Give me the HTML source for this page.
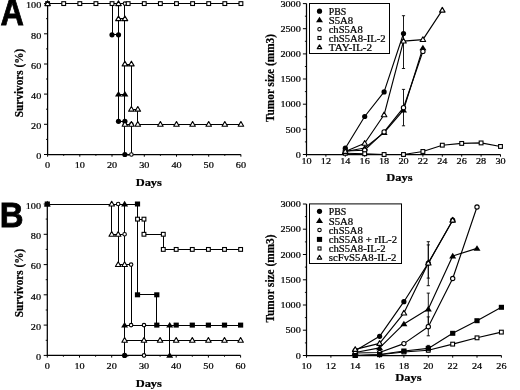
<!DOCTYPE html>
<html><head><meta charset="utf-8"><title>Figure</title>
<style>
html,body{margin:0;padding:0;background:#fff;}
body{width:520px;height:390px;overflow:hidden;font-family:"Liberation Serif",serif;}
svg text{stroke:#000;stroke-width:0.22px;}svg{display:block;filter:blur(0.3px);font-family:"Liberation Serif",serif;fill:#000;}
</style></head><body>
<svg width="520" height="390" viewBox="0 0 520 390">
<rect width="520" height="390" fill="#fff"/>
<path d="M47.6 3.6V154.5H240.9" fill="none" stroke="#000" stroke-width="1.25"/>
<path d="M47.6 154.5v2.2" stroke="#000" stroke-width="1"/>
<text transform="translate(47.6 167.5) scale(1.12 1)" text-anchor="middle" font-size="9.1">0</text>
<path d="M79.8 154.5v2.2" stroke="#000" stroke-width="1"/>
<text transform="translate(79.8 167.5) scale(1.12 1)" text-anchor="middle" font-size="9.1">10</text>
<path d="M112.0 154.5v2.2" stroke="#000" stroke-width="1"/>
<text transform="translate(112.0 167.5) scale(1.12 1)" text-anchor="middle" font-size="9.1">20</text>
<path d="M144.3 154.5v2.2" stroke="#000" stroke-width="1"/>
<text transform="translate(144.3 167.5) scale(1.12 1)" text-anchor="middle" font-size="9.1">30</text>
<path d="M176.5 154.5v2.2" stroke="#000" stroke-width="1"/>
<text transform="translate(176.5 167.5) scale(1.12 1)" text-anchor="middle" font-size="9.1">40</text>
<path d="M208.7 154.5v2.2" stroke="#000" stroke-width="1"/>
<text transform="translate(208.7 167.5) scale(1.12 1)" text-anchor="middle" font-size="9.1">50</text>
<path d="M240.9 154.5v2.2" stroke="#000" stroke-width="1"/>
<text transform="translate(240.9 167.5) scale(1.12 1)" text-anchor="middle" font-size="9.1">60</text>
<path d="M63.7 154.5v1.4" stroke="#000" stroke-width="0.9"/>
<path d="M95.9 154.5v1.4" stroke="#000" stroke-width="0.9"/>
<path d="M128.2 154.5v1.4" stroke="#000" stroke-width="0.9"/>
<path d="M160.4 154.5v1.4" stroke="#000" stroke-width="0.9"/>
<path d="M192.6 154.5v1.4" stroke="#000" stroke-width="0.9"/>
<path d="M224.8 154.5v1.4" stroke="#000" stroke-width="0.9"/>
<path d="M47.6 154.5h-3.6" stroke="#000" stroke-width="1"/>
<text transform="translate(41.300000000000004 159.2) scale(1.12 1)" text-anchor="end" font-size="9.1">0</text>
<path d="M47.6 124.3h-3.6" stroke="#000" stroke-width="1"/>
<text transform="translate(41.300000000000004 129.0) scale(1.12 1)" text-anchor="end" font-size="9.1">20</text>
<path d="M47.6 94.1h-3.6" stroke="#000" stroke-width="1"/>
<text transform="translate(41.300000000000004 98.8) scale(1.12 1)" text-anchor="end" font-size="9.1">40</text>
<path d="M47.6 64.0h-3.6" stroke="#000" stroke-width="1"/>
<text transform="translate(41.300000000000004 68.7) scale(1.12 1)" text-anchor="end" font-size="9.1">60</text>
<path d="M47.6 33.8h-3.6" stroke="#000" stroke-width="1"/>
<text transform="translate(41.300000000000004 38.5) scale(1.12 1)" text-anchor="end" font-size="9.1">80</text>
<path d="M47.6 3.6h-3.6" stroke="#000" stroke-width="1"/>
<text transform="translate(41.300000000000004 8.3) scale(1.12 1)" text-anchor="end" font-size="9.1">100</text>
<path d="M47.6 139.4h-1.6" stroke="#000" stroke-width="0.9"/>
<path d="M47.6 109.2h-1.6" stroke="#000" stroke-width="0.9"/>
<path d="M47.6 79.0h-1.6" stroke="#000" stroke-width="0.9"/>
<path d="M47.6 48.9h-1.6" stroke="#000" stroke-width="0.9"/>
<path d="M47.6 18.7h-1.6" stroke="#000" stroke-width="0.9"/>
<path d="M47.6 3.6L112.0 3.6L112.0 34.8L118.5 34.8L118.5 121.3L124.9 121.3L124.9 154.5" fill="none" stroke="#000" stroke-width="1" shape-rendering="crispEdges"/>
<path d="M47.6 3.6L118.5 3.6L118.5 94.1L124.9 94.1L124.9 154.5" fill="none" stroke="#000" stroke-width="1" shape-rendering="crispEdges"/>
<path d="M47.6 3.6L124.9 3.6L124.9 124.3L131.4 124.3L131.4 154.5" fill="none" stroke="#000" stroke-width="1" shape-rendering="crispEdges"/>
<path d="M47.6 3.6L240.9 3.6" fill="none" stroke="#000" stroke-width="1" shape-rendering="crispEdges"/>
<path d="M47.6 3.6L118.5 3.6L118.5 18.7L124.9 18.7L124.9 64.0L131.4 64.0L131.4 109.2L137.8 109.2L137.8 124.3L240.9 124.3" fill="none" stroke="#000" stroke-width="1" shape-rendering="crispEdges"/>
<circle cx="112.0" cy="34.8" r="2.6" fill="#000"/>
<circle cx="118.5" cy="34.8" r="2.6" fill="#000"/>
<circle cx="118.5" cy="121.3" r="2.6" fill="#000"/>
<circle cx="124.9" cy="121.3" r="2.6" fill="#000"/>
<circle cx="124.9" cy="154.5" r="2.6" fill="#000"/>
<path d="M118.5 90.9L122.0 96.5L115.0 96.5Z" fill="#000"/>
<path d="M124.9 90.9L128.4 96.5L121.4 96.5Z" fill="#000"/>
<circle cx="124.9" cy="3.6" r="1.76" fill="#fff" stroke="#000" stroke-width="1.1"/>
<circle cx="124.9" cy="124.3" r="1.76" fill="#fff" stroke="#000" stroke-width="1.1"/>
<circle cx="131.4" cy="124.3" r="1.76" fill="#fff" stroke="#000" stroke-width="1.1"/>
<circle cx="131.4" cy="154.5" r="1.76" fill="#fff" stroke="#000" stroke-width="1.1"/>
<rect x="45.70" y="1.70" width="3.80" height="3.80" fill="#fff" stroke="#000" stroke-width="1.1"/>
<rect x="61.81" y="1.70" width="3.80" height="3.80" fill="#fff" stroke="#000" stroke-width="1.1"/>
<rect x="77.92" y="1.70" width="3.80" height="3.80" fill="#fff" stroke="#000" stroke-width="1.1"/>
<rect x="94.03" y="1.70" width="3.80" height="3.80" fill="#fff" stroke="#000" stroke-width="1.1"/>
<rect x="110.14" y="1.70" width="3.80" height="3.80" fill="#fff" stroke="#000" stroke-width="1.1"/>
<rect x="126.25" y="1.70" width="3.80" height="3.80" fill="#fff" stroke="#000" stroke-width="1.1"/>
<rect x="142.36" y="1.70" width="3.80" height="3.80" fill="#fff" stroke="#000" stroke-width="1.1"/>
<rect x="158.47" y="1.70" width="3.80" height="3.80" fill="#fff" stroke="#000" stroke-width="1.1"/>
<rect x="174.58" y="1.70" width="3.80" height="3.80" fill="#fff" stroke="#000" stroke-width="1.1"/>
<rect x="190.69" y="1.70" width="3.80" height="3.80" fill="#fff" stroke="#000" stroke-width="1.1"/>
<rect x="206.80" y="1.70" width="3.80" height="3.80" fill="#fff" stroke="#000" stroke-width="1.1"/>
<rect x="222.91" y="1.70" width="3.80" height="3.80" fill="#fff" stroke="#000" stroke-width="1.1"/>
<rect x="239.02" y="1.70" width="3.80" height="3.80" fill="#fff" stroke="#000" stroke-width="1.1"/>
<path d="M47.6 0.85L50.35 5.55L44.85 5.55Z" fill="#fff" stroke="#000" stroke-width="1.15" stroke-linejoin="round"/>
<path d="M118.5 0.85L121.23 5.55L115.73 5.55Z" fill="#fff" stroke="#000" stroke-width="1.15" stroke-linejoin="round"/>
<path d="M118.5 15.94L121.23 20.64L115.73 20.64Z" fill="#fff" stroke="#000" stroke-width="1.15" stroke-linejoin="round"/>
<path d="M124.9 15.94L127.68 20.64L122.18 20.64Z" fill="#fff" stroke="#000" stroke-width="1.15" stroke-linejoin="round"/>
<path d="M124.9 61.21L127.68 65.91L122.18 65.91Z" fill="#fff" stroke="#000" stroke-width="1.15" stroke-linejoin="round"/>
<path d="M131.4 61.21L134.12 65.91L128.62 65.91Z" fill="#fff" stroke="#000" stroke-width="1.15" stroke-linejoin="round"/>
<path d="M131.4 106.48L134.12 111.18L128.62 111.18Z" fill="#fff" stroke="#000" stroke-width="1.15" stroke-linejoin="round"/>
<path d="M137.8 106.48L140.57 111.18L135.07 111.18Z" fill="#fff" stroke="#000" stroke-width="1.15" stroke-linejoin="round"/>
<path d="M124.9 121.57L127.68 126.27L122.18 126.27Z" fill="#fff" stroke="#000" stroke-width="1.15" stroke-linejoin="round"/>
<path d="M131.4 121.57L134.12 126.27L128.62 126.27Z" fill="#fff" stroke="#000" stroke-width="1.15" stroke-linejoin="round"/>
<path d="M137.8 121.57L140.57 126.27L135.07 126.27Z" fill="#fff" stroke="#000" stroke-width="1.15" stroke-linejoin="round"/>
<path d="M160.4 121.57L163.12 126.27L157.62 126.27Z" fill="#fff" stroke="#000" stroke-width="1.15" stroke-linejoin="round"/>
<path d="M176.5 121.57L179.23 126.27L173.73 126.27Z" fill="#fff" stroke="#000" stroke-width="1.15" stroke-linejoin="round"/>
<path d="M192.6 121.57L195.34 126.27L189.84 126.27Z" fill="#fff" stroke="#000" stroke-width="1.15" stroke-linejoin="round"/>
<path d="M208.7 121.57L211.45 126.27L205.95 126.27Z" fill="#fff" stroke="#000" stroke-width="1.15" stroke-linejoin="round"/>
<path d="M224.8 121.57L227.56 126.27L222.06 126.27Z" fill="#fff" stroke="#000" stroke-width="1.15" stroke-linejoin="round"/>
<path d="M240.9 121.57L243.67 126.27L238.17 126.27Z" fill="#fff" stroke="#000" stroke-width="1.15" stroke-linejoin="round"/>
<text x="148.8" y="185.8" text-anchor="middle" font-size="11" font-weight="bold" textLength="26.3" lengthAdjust="spacingAndGlyphs">Days</text>
<text transform="translate(22.6 83) rotate(-90)" text-anchor="middle" font-size="11.5" font-weight="bold" textLength="68.5" lengthAdjust="spacingAndGlyphs">Survivors (%)</text>
<path d="M306.5 3.6V154.5H500.5" fill="none" stroke="#000" stroke-width="1.25"/>
<path d="M306.5 154.5v2.2" stroke="#000" stroke-width="1"/>
<text transform="translate(306.5 164.1) scale(1.12 1)" text-anchor="middle" font-size="9.1">10</text>
<path d="M325.9 154.5v2.2" stroke="#000" stroke-width="1"/>
<text transform="translate(325.9 164.1) scale(1.12 1)" text-anchor="middle" font-size="9.1">12</text>
<path d="M345.3 154.5v2.2" stroke="#000" stroke-width="1"/>
<text transform="translate(345.3 164.1) scale(1.12 1)" text-anchor="middle" font-size="9.1">14</text>
<path d="M364.7 154.5v2.2" stroke="#000" stroke-width="1"/>
<text transform="translate(364.7 164.1) scale(1.12 1)" text-anchor="middle" font-size="9.1">16</text>
<path d="M384.1 154.5v2.2" stroke="#000" stroke-width="1"/>
<text transform="translate(384.1 164.1) scale(1.12 1)" text-anchor="middle" font-size="9.1">18</text>
<path d="M403.5 154.5v2.2" stroke="#000" stroke-width="1"/>
<text transform="translate(403.5 164.1) scale(1.12 1)" text-anchor="middle" font-size="9.1">20</text>
<path d="M422.9 154.5v2.2" stroke="#000" stroke-width="1"/>
<text transform="translate(422.9 164.1) scale(1.12 1)" text-anchor="middle" font-size="9.1">22</text>
<path d="M442.3 154.5v2.2" stroke="#000" stroke-width="1"/>
<text transform="translate(442.3 164.1) scale(1.12 1)" text-anchor="middle" font-size="9.1">24</text>
<path d="M461.7 154.5v2.2" stroke="#000" stroke-width="1"/>
<text transform="translate(461.7 164.1) scale(1.12 1)" text-anchor="middle" font-size="9.1">26</text>
<path d="M481.1 154.5v2.2" stroke="#000" stroke-width="1"/>
<text transform="translate(481.1 164.1) scale(1.12 1)" text-anchor="middle" font-size="9.1">28</text>
<path d="M500.5 154.5v2.2" stroke="#000" stroke-width="1"/>
<text transform="translate(500.5 164.1) scale(1.12 1)" text-anchor="middle" font-size="9.1">30</text>
<path d="M306.5 154.5h-3.6" stroke="#000" stroke-width="1"/>
<text transform="translate(300.8 157.7) scale(1.12 1)" text-anchor="end" font-size="9.1">0</text>
<path d="M306.5 129.3h-3.6" stroke="#000" stroke-width="1"/>
<text transform="translate(300.8 132.5) scale(1.12 1)" text-anchor="end" font-size="9.1">500</text>
<path d="M306.5 104.2h-3.6" stroke="#000" stroke-width="1"/>
<text transform="translate(300.8 107.4) scale(1.12 1)" text-anchor="end" font-size="9.1">1000</text>
<path d="M306.5 79.0h-3.6" stroke="#000" stroke-width="1"/>
<text transform="translate(300.8 82.2) scale(1.12 1)" text-anchor="end" font-size="9.1">1500</text>
<path d="M306.5 53.9h-3.6" stroke="#000" stroke-width="1"/>
<text transform="translate(300.8 57.1) scale(1.12 1)" text-anchor="end" font-size="9.1">2000</text>
<path d="M306.5 28.7h-3.6" stroke="#000" stroke-width="1"/>
<text transform="translate(300.8 31.9) scale(1.12 1)" text-anchor="end" font-size="9.1">2500</text>
<path d="M306.5 3.6h-3.6" stroke="#000" stroke-width="1"/>
<text transform="translate(300.8 6.8) scale(1.12 1)" text-anchor="end" font-size="9.1">3000</text>
<path d="M306.5 141.9h-1.6" stroke="#000" stroke-width="0.9"/>
<path d="M306.5 116.8h-1.6" stroke="#000" stroke-width="0.9"/>
<path d="M306.5 91.6h-1.6" stroke="#000" stroke-width="0.9"/>
<path d="M306.5 66.5h-1.6" stroke="#000" stroke-width="0.9"/>
<path d="M306.5 41.3h-1.6" stroke="#000" stroke-width="0.9"/>
<path d="M306.5 16.2h-1.6" stroke="#000" stroke-width="0.9"/>
<path d="M403.5 68.5V15.7M401.9 68.5h3.2M401.9 15.7h3.2" fill="none" stroke="#000" stroke-width="0.9"/>
<path d="M403.5 125.8V89.4M401.9 125.8h3.2M401.9 89.4h3.2" fill="none" stroke="#000" stroke-width="0.9"/>
<path d="M345.3 148.2L364.7 116.5L384.1 91.9L403.5 33.5" fill="none" stroke="#000" stroke-width="1.15" stroke-linejoin="round"/>
<path d="M345.3 151.5L364.7 148.0L384.1 132.6L403.5 110.2L422.9 47.9" fill="none" stroke="#000" stroke-width="1.15" stroke-linejoin="round"/>
<path d="M345.3 151.0L364.7 150.2L384.1 131.9L403.5 107.7L422.9 51.4" fill="none" stroke="#000" stroke-width="1.15" stroke-linejoin="round"/>
<path d="M345.3 153.2L364.7 153.7L384.1 154.5L403.5 154.5L422.9 151.5L442.3 145.2L461.7 143.4L481.1 142.9L500.5 146.5" fill="none" stroke="#000" stroke-width="1.15" stroke-linejoin="round"/>
<path d="M345.3 151.5L364.7 143.3L384.1 114.8L403.5 41.1L422.9 39.6L442.3 10.1" fill="none" stroke="#000" stroke-width="1.15" stroke-linejoin="round"/>
<circle cx="345.3" cy="148.2" r="2.6" fill="#000"/>
<circle cx="364.7" cy="116.5" r="2.6" fill="#000"/>
<circle cx="384.1" cy="91.9" r="2.6" fill="#000"/>
<circle cx="403.5" cy="33.5" r="2.6" fill="#000"/>
<path d="M345.3 148.3L348.8 153.9L341.8 153.9Z" fill="#000"/>
<path d="M364.7 144.8L368.2 150.4L361.2 150.4Z" fill="#000"/>
<path d="M384.1 129.4L387.6 135.0L380.6 135.0Z" fill="#000"/>
<path d="M403.5 107.0L407.0 112.6L400.0 112.6Z" fill="#000"/>
<path d="M422.9 44.7L426.4 50.3L419.4 50.3Z" fill="#000"/>
<circle cx="345.3" cy="151.0" r="2.15" fill="#fff" stroke="#000" stroke-width="1.1"/>
<circle cx="364.7" cy="150.2" r="2.15" fill="#fff" stroke="#000" stroke-width="1.1"/>
<circle cx="384.1" cy="131.9" r="2.15" fill="#fff" stroke="#000" stroke-width="1.1"/>
<circle cx="403.5" cy="107.7" r="2.15" fill="#fff" stroke="#000" stroke-width="1.1"/>
<circle cx="422.9" cy="51.4" r="2.15" fill="#fff" stroke="#000" stroke-width="1.1"/>
<rect x="343.40" y="151.34" width="3.80" height="3.80" fill="#fff" stroke="#000" stroke-width="1.1"/>
<rect x="362.80" y="151.85" width="3.80" height="3.80" fill="#fff" stroke="#000" stroke-width="1.1"/>
<rect x="382.20" y="152.60" width="3.80" height="3.80" fill="#fff" stroke="#000" stroke-width="1.1"/>
<rect x="401.60" y="152.60" width="3.80" height="3.80" fill="#fff" stroke="#000" stroke-width="1.1"/>
<rect x="421.00" y="149.58" width="3.80" height="3.80" fill="#fff" stroke="#000" stroke-width="1.1"/>
<rect x="440.40" y="143.29" width="3.80" height="3.80" fill="#fff" stroke="#000" stroke-width="1.1"/>
<rect x="459.80" y="141.53" width="3.80" height="3.80" fill="#fff" stroke="#000" stroke-width="1.1"/>
<rect x="479.20" y="141.03" width="3.80" height="3.80" fill="#fff" stroke="#000" stroke-width="1.1"/>
<rect x="498.60" y="144.55" width="3.80" height="3.80" fill="#fff" stroke="#000" stroke-width="1.1"/>
<path d="M345.3 148.73L348.05 153.43L342.55 153.43Z" fill="#fff" stroke="#000" stroke-width="1.15" stroke-linejoin="round"/>
<path d="M364.7 140.58L367.45 145.28L361.95 145.28Z" fill="#fff" stroke="#000" stroke-width="1.15" stroke-linejoin="round"/>
<path d="M384.1 112.01L386.85 116.71L381.35 116.71Z" fill="#fff" stroke="#000" stroke-width="1.15" stroke-linejoin="round"/>
<path d="M403.5 38.32L406.25 43.02L400.75 43.02Z" fill="#fff" stroke="#000" stroke-width="1.15" stroke-linejoin="round"/>
<path d="M422.9 36.81L425.65 41.51L420.15 41.51Z" fill="#fff" stroke="#000" stroke-width="1.15" stroke-linejoin="round"/>
<path d="M442.3 7.39L445.05 12.09L439.55 12.09Z" fill="#fff" stroke="#000" stroke-width="1.15" stroke-linejoin="round"/>
<rect x="309.5" y="3.5" width="80.0" height="50.0" fill="#fff" stroke="#000" stroke-width="1"/>
<circle cx="319.5" cy="11.2" r="2.6" fill="#000"/>
<text x="328.7" y="15.0" font-size="9.5" textLength="17.5" lengthAdjust="spacingAndGlyphs">PBS</text>
<path d="M319.5 16.7L323.0 22.3L316.0 22.3Z" fill="#000"/>
<text x="328.7" y="23.7" font-size="9.5" textLength="24.5" lengthAdjust="spacingAndGlyphs">S5A8</text>
<circle cx="319.5" cy="29.2" r="1.72" fill="#fff" stroke="#000" stroke-width="1.1"/>
<text x="328.7" y="33.0" font-size="9.5" textLength="34" lengthAdjust="spacingAndGlyphs">chS5A8</text>
<rect x="317.98" y="36.48" width="3.04" height="3.04" fill="#fff" stroke="#000" stroke-width="1.1"/>
<text x="328.7" y="41.8" font-size="9.5" textLength="57" lengthAdjust="spacingAndGlyphs">chS5A8-IL-2</text>
<path d="M319.5 44.90L321.70 48.66L317.30 48.66Z" fill="#fff" stroke="#000" stroke-width="1.15" stroke-linejoin="round"/>
<text x="328.7" y="50.9" font-size="9.5" textLength="43.5" lengthAdjust="spacingAndGlyphs">TAY-IL-2</text>
<text x="399.5" y="180.8" text-anchor="middle" font-size="11" font-weight="bold" textLength="26.3" lengthAdjust="spacingAndGlyphs">Days</text>
<text transform="translate(274 78) rotate(-90)" text-anchor="middle" font-size="11.5" font-weight="bold" textLength="88" lengthAdjust="spacingAndGlyphs">Tumor size (mm3)</text>
<path d="M47.3 204.0V355.4H240.6" fill="none" stroke="#000" stroke-width="1.25"/>
<path d="M47.3 355.4v2.2" stroke="#000" stroke-width="1"/>
<text transform="translate(47.3 368.6) scale(1.12 1)" text-anchor="middle" font-size="9.1">0</text>
<path d="M79.5 355.4v2.2" stroke="#000" stroke-width="1"/>
<text transform="translate(79.5 368.6) scale(1.12 1)" text-anchor="middle" font-size="9.1">10</text>
<path d="M111.7 355.4v2.2" stroke="#000" stroke-width="1"/>
<text transform="translate(111.7 368.6) scale(1.12 1)" text-anchor="middle" font-size="9.1">20</text>
<path d="M144.0 355.4v2.2" stroke="#000" stroke-width="1"/>
<text transform="translate(144.0 368.6) scale(1.12 1)" text-anchor="middle" font-size="9.1">30</text>
<path d="M176.2 355.4v2.2" stroke="#000" stroke-width="1"/>
<text transform="translate(176.2 368.6) scale(1.12 1)" text-anchor="middle" font-size="9.1">40</text>
<path d="M208.4 355.4v2.2" stroke="#000" stroke-width="1"/>
<text transform="translate(208.4 368.6) scale(1.12 1)" text-anchor="middle" font-size="9.1">50</text>
<path d="M240.6 355.4v2.2" stroke="#000" stroke-width="1"/>
<text transform="translate(240.6 368.6) scale(1.12 1)" text-anchor="middle" font-size="9.1">60</text>
<path d="M63.4 355.4v1.4" stroke="#000" stroke-width="0.9"/>
<path d="M95.6 355.4v1.4" stroke="#000" stroke-width="0.9"/>
<path d="M127.8 355.4v1.4" stroke="#000" stroke-width="0.9"/>
<path d="M160.1 355.4v1.4" stroke="#000" stroke-width="0.9"/>
<path d="M192.3 355.4v1.4" stroke="#000" stroke-width="0.9"/>
<path d="M224.5 355.4v1.4" stroke="#000" stroke-width="0.9"/>
<path d="M47.3 355.4h-3.6" stroke="#000" stroke-width="1"/>
<text transform="translate(41.0 360.1) scale(1.12 1)" text-anchor="end" font-size="9.1">0</text>
<path d="M47.3 325.1h-3.6" stroke="#000" stroke-width="1"/>
<text transform="translate(41.0 329.8) scale(1.12 1)" text-anchor="end" font-size="9.1">20</text>
<path d="M47.3 294.8h-3.6" stroke="#000" stroke-width="1"/>
<text transform="translate(41.0 299.5) scale(1.12 1)" text-anchor="end" font-size="9.1">40</text>
<path d="M47.3 264.6h-3.6" stroke="#000" stroke-width="1"/>
<text transform="translate(41.0 269.3) scale(1.12 1)" text-anchor="end" font-size="9.1">60</text>
<path d="M47.3 234.3h-3.6" stroke="#000" stroke-width="1"/>
<text transform="translate(41.0 239.0) scale(1.12 1)" text-anchor="end" font-size="9.1">80</text>
<path d="M47.3 204.0h-3.6" stroke="#000" stroke-width="1"/>
<text transform="translate(41.0 208.7) scale(1.12 1)" text-anchor="end" font-size="9.1">100</text>
<path d="M47.3 340.3h-1.6" stroke="#000" stroke-width="0.9"/>
<path d="M47.3 310.0h-1.6" stroke="#000" stroke-width="0.9"/>
<path d="M47.3 279.7h-1.6" stroke="#000" stroke-width="0.9"/>
<path d="M47.3 249.4h-1.6" stroke="#000" stroke-width="0.9"/>
<path d="M47.3 219.1h-1.6" stroke="#000" stroke-width="0.9"/>
<path d="M47.3 204.0L124.6 204.0L124.6 355.4" fill="none" stroke="#000" stroke-width="1" shape-rendering="crispEdges"/>
<path d="M47.3 204.0L124.6 204.0L124.6 325.1L169.7 325.1L169.7 355.4" fill="none" stroke="#000" stroke-width="1" shape-rendering="crispEdges"/>
<path d="M47.3 204.0L118.2 204.0L118.2 234.3L124.6 234.3L124.6 264.6L131.1 264.6L131.1 325.1L144.0 325.1L144.0 355.4" fill="none" stroke="#000" stroke-width="1" shape-rendering="crispEdges"/>
<path d="M47.3 204.0L137.5 204.0L137.5 294.8L156.8 294.8L156.8 325.1L240.6 325.1" fill="none" stroke="#000" stroke-width="1" shape-rendering="crispEdges"/>
<path d="M47.3 204.0L137.5 204.0L137.5 219.1L144.0 219.1L144.0 234.3L163.3 234.3L163.3 249.4L240.6 249.4" fill="none" stroke="#000" stroke-width="1" shape-rendering="crispEdges"/>
<path d="M47.3 204.0L111.7 204.0L111.7 234.3L118.2 234.3L118.2 264.6L124.6 264.6L124.6 340.3L240.6 340.3" fill="none" stroke="#000" stroke-width="1" shape-rendering="crispEdges"/>
<circle cx="124.6" cy="355.4" r="2.6" fill="#000"/>
<path d="M47.3 200.8L50.8 206.4L43.8 206.4Z" fill="#000"/>
<path d="M124.6 200.8L128.1 206.4L121.1 206.4Z" fill="#000"/>
<path d="M124.6 321.9L128.1 327.5L121.1 327.5Z" fill="#000"/>
<path d="M169.7 321.9L173.2 327.5L166.2 327.5Z" fill="#000"/>
<path d="M169.7 352.2L173.2 357.8L166.2 357.8Z" fill="#000"/>
<circle cx="118.2" cy="204.0" r="1.76" fill="#fff" stroke="#000" stroke-width="1.1"/>
<circle cx="124.6" cy="234.3" r="1.76" fill="#fff" stroke="#000" stroke-width="1.1"/>
<circle cx="131.1" cy="264.6" r="1.76" fill="#fff" stroke="#000" stroke-width="1.1"/>
<circle cx="131.1" cy="325.1" r="1.76" fill="#fff" stroke="#000" stroke-width="1.1"/>
<circle cx="144.0" cy="325.1" r="1.76" fill="#fff" stroke="#000" stroke-width="1.1"/>
<circle cx="144.0" cy="355.4" r="1.76" fill="#fff" stroke="#000" stroke-width="1.1"/>
<rect x="44.7" y="201.5" width="5.2" height="5" fill="#000"/>
<rect x="134.9" y="201.5" width="5.2" height="5" fill="#000"/>
<rect x="134.9" y="292.3" width="5.2" height="5" fill="#000"/>
<rect x="154.2" y="292.3" width="5.2" height="5" fill="#000"/>
<rect x="154.2" y="322.6" width="5.2" height="5" fill="#000"/>
<rect x="173.6" y="322.6" width="5.2" height="5" fill="#000"/>
<rect x="189.7" y="322.6" width="5.2" height="5" fill="#000"/>
<rect x="205.8" y="322.6" width="5.2" height="5" fill="#000"/>
<rect x="221.9" y="322.6" width="5.2" height="5" fill="#000"/>
<rect x="238.0" y="322.6" width="5.2" height="5" fill="#000"/>
<rect x="135.62" y="217.24" width="3.80" height="3.80" fill="#fff" stroke="#000" stroke-width="1.1"/>
<rect x="142.06" y="217.24" width="3.80" height="3.80" fill="#fff" stroke="#000" stroke-width="1.1"/>
<rect x="142.06" y="232.38" width="3.80" height="3.80" fill="#fff" stroke="#000" stroke-width="1.1"/>
<rect x="161.39" y="232.38" width="3.80" height="3.80" fill="#fff" stroke="#000" stroke-width="1.1"/>
<rect x="161.39" y="247.52" width="3.80" height="3.80" fill="#fff" stroke="#000" stroke-width="1.1"/>
<rect x="174.28" y="247.52" width="3.80" height="3.80" fill="#fff" stroke="#000" stroke-width="1.1"/>
<rect x="190.39" y="247.52" width="3.80" height="3.80" fill="#fff" stroke="#000" stroke-width="1.1"/>
<rect x="206.50" y="247.52" width="3.80" height="3.80" fill="#fff" stroke="#000" stroke-width="1.1"/>
<rect x="222.61" y="247.52" width="3.80" height="3.80" fill="#fff" stroke="#000" stroke-width="1.1"/>
<rect x="238.72" y="247.52" width="3.80" height="3.80" fill="#fff" stroke="#000" stroke-width="1.1"/>
<path d="M111.7 201.25L114.49 205.95L108.99 205.95Z" fill="#fff" stroke="#000" stroke-width="1.15" stroke-linejoin="round"/>
<path d="M111.7 231.53L114.49 236.23L108.99 236.23Z" fill="#fff" stroke="#000" stroke-width="1.15" stroke-linejoin="round"/>
<path d="M118.2 231.53L120.93 236.23L115.43 236.23Z" fill="#fff" stroke="#000" stroke-width="1.15" stroke-linejoin="round"/>
<path d="M118.2 261.81L120.93 266.51L115.43 266.51Z" fill="#fff" stroke="#000" stroke-width="1.15" stroke-linejoin="round"/>
<path d="M124.6 261.81L127.38 266.51L121.88 266.51Z" fill="#fff" stroke="#000" stroke-width="1.15" stroke-linejoin="round"/>
<path d="M124.6 337.51L127.38 342.21L121.88 342.21Z" fill="#fff" stroke="#000" stroke-width="1.15" stroke-linejoin="round"/>
<path d="M144.0 337.51L146.71 342.21L141.21 342.21Z" fill="#fff" stroke="#000" stroke-width="1.15" stroke-linejoin="round"/>
<path d="M160.1 337.51L162.82 342.21L157.32 342.21Z" fill="#fff" stroke="#000" stroke-width="1.15" stroke-linejoin="round"/>
<path d="M176.2 337.51L178.93 342.21L173.43 342.21Z" fill="#fff" stroke="#000" stroke-width="1.15" stroke-linejoin="round"/>
<path d="M192.3 337.51L195.04 342.21L189.54 342.21Z" fill="#fff" stroke="#000" stroke-width="1.15" stroke-linejoin="round"/>
<path d="M208.4 337.51L211.15 342.21L205.65 342.21Z" fill="#fff" stroke="#000" stroke-width="1.15" stroke-linejoin="round"/>
<path d="M224.5 337.51L227.26 342.21L221.76 342.21Z" fill="#fff" stroke="#000" stroke-width="1.15" stroke-linejoin="round"/>
<path d="M240.6 337.51L243.37 342.21L237.87 342.21Z" fill="#fff" stroke="#000" stroke-width="1.15" stroke-linejoin="round"/>
<text x="148.8" y="386.5" text-anchor="middle" font-size="11" font-weight="bold" textLength="26.3" lengthAdjust="spacingAndGlyphs">Days</text>
<text transform="translate(22.6 283) rotate(-90)" text-anchor="middle" font-size="11.5" font-weight="bold" textLength="68.5" lengthAdjust="spacingAndGlyphs">Survivors (%)</text>
<path d="M306.5 204.0V355.5H501.4" fill="none" stroke="#000" stroke-width="1.25"/>
<path d="M306.5 355.5v2.2" stroke="#000" stroke-width="1"/>
<text transform="translate(306.5 368.7) scale(1.12 1)" text-anchor="middle" font-size="9.1">10</text>
<path d="M330.9 355.5v2.2" stroke="#000" stroke-width="1"/>
<text transform="translate(330.9 368.7) scale(1.12 1)" text-anchor="middle" font-size="9.1">12</text>
<path d="M355.2 355.5v2.2" stroke="#000" stroke-width="1"/>
<text transform="translate(355.2 368.7) scale(1.12 1)" text-anchor="middle" font-size="9.1">14</text>
<path d="M379.6 355.5v2.2" stroke="#000" stroke-width="1"/>
<text transform="translate(379.6 368.7) scale(1.12 1)" text-anchor="middle" font-size="9.1">16</text>
<path d="M403.9 355.5v2.2" stroke="#000" stroke-width="1"/>
<text transform="translate(403.9 368.7) scale(1.12 1)" text-anchor="middle" font-size="9.1">18</text>
<path d="M428.3 355.5v2.2" stroke="#000" stroke-width="1"/>
<text transform="translate(428.3 368.7) scale(1.12 1)" text-anchor="middle" font-size="9.1">20</text>
<path d="M452.7 355.5v2.2" stroke="#000" stroke-width="1"/>
<text transform="translate(452.7 368.7) scale(1.12 1)" text-anchor="middle" font-size="9.1">22</text>
<path d="M477.0 355.5v2.2" stroke="#000" stroke-width="1"/>
<text transform="translate(477.0 368.7) scale(1.12 1)" text-anchor="middle" font-size="9.1">24</text>
<path d="M501.4 355.5v2.2" stroke="#000" stroke-width="1"/>
<text transform="translate(501.4 368.7) scale(1.12 1)" text-anchor="middle" font-size="9.1">26</text>
<path d="M306.5 355.5h-3.6" stroke="#000" stroke-width="1"/>
<text transform="translate(300.8 358.7) scale(1.12 1)" text-anchor="end" font-size="9.1">0</text>
<path d="M306.5 330.2h-3.6" stroke="#000" stroke-width="1"/>
<text transform="translate(300.8 333.4) scale(1.12 1)" text-anchor="end" font-size="9.1">500</text>
<path d="M306.5 305.0h-3.6" stroke="#000" stroke-width="1"/>
<text transform="translate(300.8 308.2) scale(1.12 1)" text-anchor="end" font-size="9.1">1000</text>
<path d="M306.5 279.8h-3.6" stroke="#000" stroke-width="1"/>
<text transform="translate(300.8 282.9) scale(1.12 1)" text-anchor="end" font-size="9.1">1500</text>
<path d="M306.5 254.5h-3.6" stroke="#000" stroke-width="1"/>
<text transform="translate(300.8 257.7) scale(1.12 1)" text-anchor="end" font-size="9.1">2000</text>
<path d="M306.5 229.2h-3.6" stroke="#000" stroke-width="1"/>
<text transform="translate(300.8 232.4) scale(1.12 1)" text-anchor="end" font-size="9.1">2500</text>
<path d="M306.5 204.0h-3.6" stroke="#000" stroke-width="1"/>
<text transform="translate(300.8 207.2) scale(1.12 1)" text-anchor="end" font-size="9.1">3000</text>
<path d="M306.5 342.9h-1.6" stroke="#000" stroke-width="0.9"/>
<path d="M306.5 317.6h-1.6" stroke="#000" stroke-width="0.9"/>
<path d="M306.5 292.4h-1.6" stroke="#000" stroke-width="0.9"/>
<path d="M306.5 267.1h-1.6" stroke="#000" stroke-width="0.9"/>
<path d="M306.5 241.9h-1.6" stroke="#000" stroke-width="0.9"/>
<path d="M306.5 216.6h-1.6" stroke="#000" stroke-width="0.9"/>
<path d="M428.3 285.7V241.7M426.7 285.7h3.2M426.7 241.7h3.2" fill="none" stroke="#000" stroke-width="0.9"/>
<path d="M428.3 278.1V244.9M426.7 278.1h3.2M426.7 244.9h3.2" fill="none" stroke="#000" stroke-width="0.9"/>
<path d="M428.3 324.7V293.1M426.7 324.7h3.2M426.7 293.1h3.2" fill="none" stroke="#000" stroke-width="0.9"/>
<path d="M428.3 335.8V316.9M426.7 335.8h3.2M426.7 316.9h3.2" fill="none" stroke="#000" stroke-width="0.9"/>
<path d="M428.3 352.0V345.4M426.7 352.0h3.2M426.7 345.4h3.2" fill="none" stroke="#000" stroke-width="0.9"/>
<path d="M355.2 350.7L379.6 336.3L403.9 301.7L428.3 263.1L452.7 220.2" fill="none" stroke="#000" stroke-width="1.15" stroke-linejoin="round"/>
<path d="M355.2 352.5L379.6 347.9L403.9 323.9L428.3 309.0L452.7 256.0L477.0 248.4" fill="none" stroke="#000" stroke-width="1.15" stroke-linejoin="round"/>
<path d="M355.2 353.0L379.6 352.5L403.9 343.6L428.3 326.7L452.7 278.5L477.0 207.0" fill="none" stroke="#000" stroke-width="1.15" stroke-linejoin="round"/>
<path d="M355.2 355.5L379.6 354.7L403.9 352.0L428.3 350.2L452.7 344.1L477.0 337.8L501.4 332.1" fill="none" stroke="#000" stroke-width="1.15" stroke-linejoin="round"/>
<path d="M355.2 355.5L379.6 354.5L403.9 351.0L428.3 348.4L452.7 333.3L477.0 320.7L501.4 307.3" fill="none" stroke="#000" stroke-width="1.15" stroke-linejoin="round"/>
<path d="M355.2 349.4L379.6 343.4L403.9 313.1L428.3 263.1L452.7 220.2" fill="none" stroke="#000" stroke-width="1.15" stroke-linejoin="round"/>
<circle cx="355.2" cy="350.7" r="2.6" fill="#000"/>
<circle cx="379.6" cy="336.3" r="2.6" fill="#000"/>
<circle cx="403.9" cy="301.7" r="2.6" fill="#000"/>
<circle cx="428.3" cy="263.1" r="2.6" fill="#000"/>
<circle cx="452.7" cy="220.2" r="2.6" fill="#000"/>
<path d="M355.2 349.3L358.7 354.9L351.7 354.9Z" fill="#000"/>
<path d="M379.6 344.7L383.1 350.3L376.1 350.3Z" fill="#000"/>
<path d="M403.9 320.7L407.4 326.3L400.4 326.3Z" fill="#000"/>
<path d="M428.3 305.8L431.8 311.4L424.8 311.4Z" fill="#000"/>
<path d="M452.7 252.8L456.2 258.4L449.2 258.4Z" fill="#000"/>
<path d="M477.0 245.2L480.5 250.8L473.5 250.8Z" fill="#000"/>
<circle cx="355.2" cy="353.0" r="2.15" fill="#fff" stroke="#000" stroke-width="1.1"/>
<circle cx="379.6" cy="352.5" r="2.15" fill="#fff" stroke="#000" stroke-width="1.1"/>
<circle cx="403.9" cy="343.6" r="2.15" fill="#fff" stroke="#000" stroke-width="1.1"/>
<circle cx="428.3" cy="326.7" r="2.15" fill="#fff" stroke="#000" stroke-width="1.1"/>
<circle cx="452.7" cy="278.5" r="2.15" fill="#fff" stroke="#000" stroke-width="1.1"/>
<circle cx="477.0" cy="207.0" r="2.15" fill="#fff" stroke="#000" stroke-width="1.1"/>
<rect x="353.32" y="353.60" width="3.80" height="3.80" fill="#fff" stroke="#000" stroke-width="1.1"/>
<rect x="377.68" y="352.84" width="3.80" height="3.80" fill="#fff" stroke="#000" stroke-width="1.1"/>
<rect x="402.04" y="350.06" width="3.80" height="3.80" fill="#fff" stroke="#000" stroke-width="1.1"/>
<rect x="426.40" y="348.30" width="3.80" height="3.80" fill="#fff" stroke="#000" stroke-width="1.1"/>
<rect x="450.76" y="342.24" width="3.80" height="3.80" fill="#fff" stroke="#000" stroke-width="1.1"/>
<rect x="475.12" y="335.93" width="3.80" height="3.80" fill="#fff" stroke="#000" stroke-width="1.1"/>
<rect x="499.48" y="330.22" width="3.80" height="3.80" fill="#fff" stroke="#000" stroke-width="1.1"/>
<rect x="352.6" y="353.0" width="5.2" height="5" fill="#000"/>
<rect x="377.0" y="352.0" width="5.2" height="5" fill="#000"/>
<rect x="401.3" y="348.5" width="5.2" height="5" fill="#000"/>
<rect x="425.7" y="345.9" width="5.2" height="5" fill="#000"/>
<rect x="450.1" y="330.8" width="5.2" height="5" fill="#000"/>
<rect x="474.4" y="318.2" width="5.2" height="5" fill="#000"/>
<rect x="498.8" y="304.8" width="5.2" height="5" fill="#000"/>
<path d="M355.2 346.69L357.97 351.39L352.47 351.39Z" fill="#fff" stroke="#000" stroke-width="1.15" stroke-linejoin="round"/>
<path d="M379.6 340.63L382.33 345.33L376.83 345.33Z" fill="#fff" stroke="#000" stroke-width="1.15" stroke-linejoin="round"/>
<path d="M403.9 310.33L406.69 315.03L401.19 315.03Z" fill="#fff" stroke="#000" stroke-width="1.15" stroke-linejoin="round"/>
<path d="M428.3 260.34L431.05 265.04L425.55 265.04Z" fill="#fff" stroke="#000" stroke-width="1.15" stroke-linejoin="round"/>
<path d="M452.7 217.41L455.41 222.11L449.91 222.11Z" fill="#fff" stroke="#000" stroke-width="1.15" stroke-linejoin="round"/>
<rect x="309.5" y="203.9" width="92.0" height="59.6" fill="#fff" stroke="#000" stroke-width="1"/>
<circle cx="319.5" cy="211.3" r="2.6" fill="#000"/>
<text x="328.7" y="215.1" font-size="9.5" textLength="17.5" lengthAdjust="spacingAndGlyphs">PBS</text>
<path d="M319.5 217.5L323.0 223.1L316.0 223.1Z" fill="#000"/>
<text x="328.7" y="224.5" font-size="9.5" textLength="24.5" lengthAdjust="spacingAndGlyphs">S5A8</text>
<circle cx="319.5" cy="229.9" r="1.72" fill="#fff" stroke="#000" stroke-width="1.1"/>
<text x="328.7" y="233.7" font-size="9.5" textLength="34" lengthAdjust="spacingAndGlyphs">chS5A8</text>
<rect x="316.9" y="236.9" width="5.2" height="5" fill="#000"/>
<text x="328.7" y="243.2" font-size="9.5" textLength="68.3" lengthAdjust="spacingAndGlyphs">chS5A8 + rIL-2</text>
<rect x="317.98" y="246.98" width="3.04" height="3.04" fill="#fff" stroke="#000" stroke-width="1.1"/>
<text x="328.7" y="252.3" font-size="9.5" textLength="57" lengthAdjust="spacingAndGlyphs">chS5A8-IL-2</text>
<path d="M319.5 255.30L321.70 259.06L317.30 259.06Z" fill="#fff" stroke="#000" stroke-width="1.15" stroke-linejoin="round"/>
<text x="328.7" y="261.3" font-size="9.5" textLength="67.7" lengthAdjust="spacingAndGlyphs">scFvS5A8-IL-2</text>
<text x="408.5" y="380.8" text-anchor="middle" font-size="11" font-weight="bold" textLength="26.3" lengthAdjust="spacingAndGlyphs">Days</text>
<text transform="translate(274 278.5) rotate(-90)" text-anchor="middle" font-size="11.5" font-weight="bold" textLength="88" lengthAdjust="spacingAndGlyphs">Tumor size (mm3)</text>
<text transform="translate(12.2 25.3) scale(0.875 1)" text-anchor="middle" font-family="Liberation Sans, sans-serif" font-weight="bold" font-size="37" style="stroke-width:0.8px">A</text>
<text transform="translate(11.55 226.7) scale(0.955 1)" text-anchor="middle" font-family="Liberation Sans, sans-serif" font-weight="bold" font-size="34.5" style="stroke-width:0.8px">B</text>
</svg>
</body></html>
